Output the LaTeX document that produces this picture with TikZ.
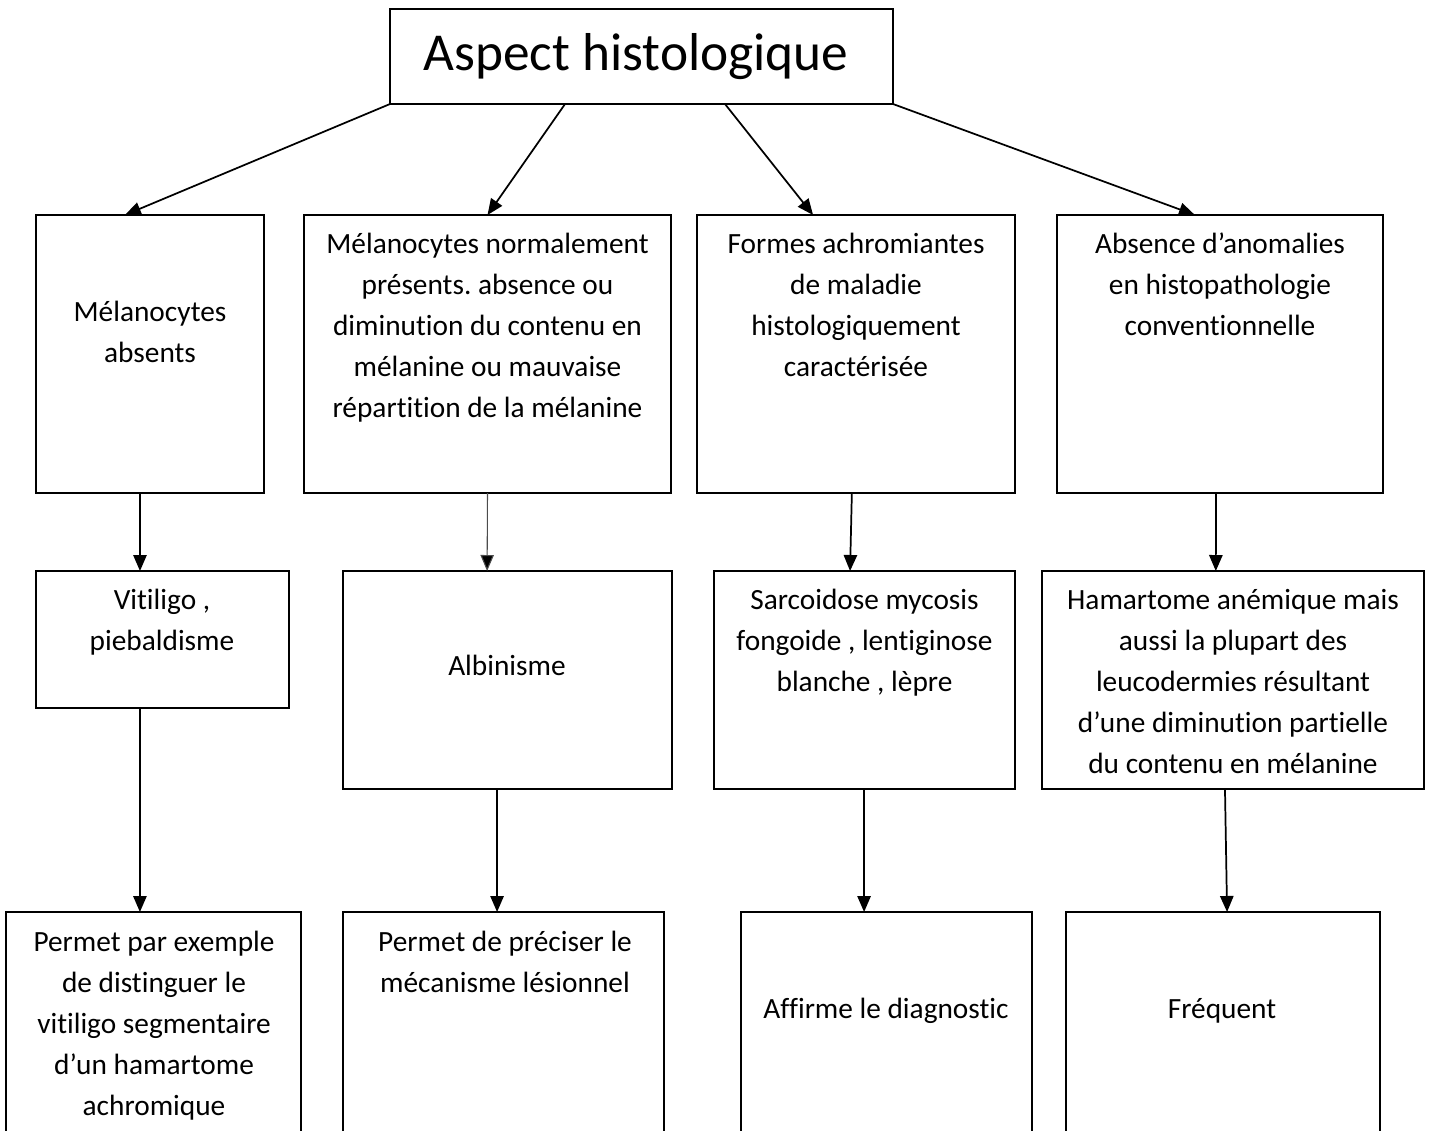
\documentclass[tikz,border=0pt]{standalone}
\usepackage{fontspec}
\setmainfont{Carlito}[Ligatures=CommonOff]
\usetikzlibrary{arrows.meta,calc}
\frenchspacing

% Box with its top-left corner at (x,y), sizes in picture units
\newcommand\mkbox[5]{%
  \node[box, minimum width=#4*0.375pt, minimum height=#5*0.375pt] (#1) at (#2,#3) {};}

\tikzset{
  box/.style={draw, line width=0.8pt, rectangle, inner sep=0pt, outer sep=0pt, anchor=north west},
  txt/.style={anchor=north, inner sep=0pt, align=center, font=\fontsize{11}{15.4}\selectfont},
  arr/.style={-{Triangle[length=6pt,width=5pt]}, line width=0.65pt},
  thinarr/.style={-{Triangle[length=6pt,width=5pt,fill=black]}, draw=black!70, line width=0.4pt},
}

\begin{document}
\begin{tikzpicture}[x=0.375pt, y=-0.375pt]
  \useasboundingbox (0,0) rectangle (1436,1130);
  \clip (0,0) rectangle (1436,1130);

  % title
  \mkbox{top}{390}{9}{503}{95}
  \node[anchor=base, inner sep=0pt, font=\fontsize{20}{24}\selectfont] (ttop) at (636,70) {Aspect histologique};

  % first row
  \mkbox{A}{36}{215}{228}{278}
  \mkbox{B}{304}{215}{367}{278}
  \mkbox{C}{697}{215}{318}{278}
  \mkbox{D}{1057}{215}{326}{278}
  \node[txt] (tA) at (150,292) {\strut Mélanocytes\\absents};
  \node[txt] (tB) at (487.5,224) {\strut Mélanocytes normalement\\présents. absence ou\\diminution du contenu en\\mélanine ou mauvaise\\répartition de la mélanine};
  \node[txt] (tC) at (856,224) {\strut Formes achromiantes\\de maladie\\histologiquement\\caractérisée};
  \node[txt] (tD) at (1220,224) {\strut Absence d’anomalies\\en histopathologie\\conventionnelle};

  % second row
  \mkbox{A2}{36}{571}{253}{137}
  \mkbox{B2}{343}{571}{329}{218}
  \mkbox{C2}{714}{571}{301}{218}
  \mkbox{D2}{1042}{571}{382}{218}
  \node[txt] (tA2) at (162,580) {\strut Vitiligo ,\\piebaldisme};
  \node[txt] (tB2) at (507,646) {\strut Albinisme};
  \node[txt] (tC2) at (864.5,580) {\strut Sarcoidose mycosis\\fongoide , lentiginose\\blanche , lèpre};
  \node[txt] (tD2) at (1233,580) {\strut Hamartome anémique mais\\aussi la plupart des\\leucodermies résultant\\d’une diminution partielle\\du contenu en mélanine};

  % third row (runs past the lower edge)
  \mkbox{A3}{6}{912}{295}{260}
  \mkbox{B3}{343}{912}{321}{260}
  \mkbox{C3}{741}{912}{291}{260}
  \mkbox{D3}{1066}{912}{314}{260}
  \node[txt] (tA3) at (154,922) {\strut Permet par exemple\\de distinguer le\\vitiligo segmentaire\\d’un hamartome\\achromique};
  \node[txt] (tB3) at (505,922) {\strut Permet de préciser le\\mécanisme lésionnel};
  \node[txt] (tC3) at (886,989) {\strut Affirme le diagnostic};
  \node[txt] (tD3) at (1222,989) {\strut Fréquent};

  % arrows from the title
  \draw[arr] (top.south west) -- ($(A.north west)!0.39!(A.north east)$);
  \draw[arr] ($(top.south west)!0.348!(top.south east)$) -- ($(B.north west)!0.5!(B.north east)$);
  \draw[arr] ($(top.south west)!0.666!(top.south east)$) -- ($(C.north west)!0.365!(C.north east)$);
  \draw[arr] (top.south east) -- ($(D.north west)!0.423!(D.north east)$);

  % first row to second row
  \draw[arr] ($(A.south west)!0.456!(A.south east)$) -- ($(A2.north west)!0.411!(A2.north east)$);
  \draw[thinarr] ($(B.south west)!0.5!(B.south east)$) -- ($(B2.north west)!0.438!(B2.north east)$);
  \draw[arr] ($(C.south west)!0.487!(C.south east)$) -- ($(C2.north west)!0.452!(C2.north east)$);
  \draw[arr] ($(D.south west)!0.488!(D.south east)$) -- ($(D2.north west)!0.455!(D2.north east)$);

  % second row to third row
  \draw[arr] ($(A2.south west)!0.411!(A2.south east)$) -- ($(A3.north west)!0.454!(A3.north east)$);
  \draw[arr] ($(B2.south west)!0.468!(B2.south east)$) -- ($(B3.north west)!0.48!(B3.north east)$);
  \draw[arr] ($(C2.south west)!0.498!(C2.south east)$) -- ($(C3.north west)!0.423!(C3.north east)$);
  \draw[arr] ($(D2.south west)!0.479!(D2.south east)$) -- ($(D3.north west)!0.513!(D3.north east)$);
\end{tikzpicture}
\end{document}
